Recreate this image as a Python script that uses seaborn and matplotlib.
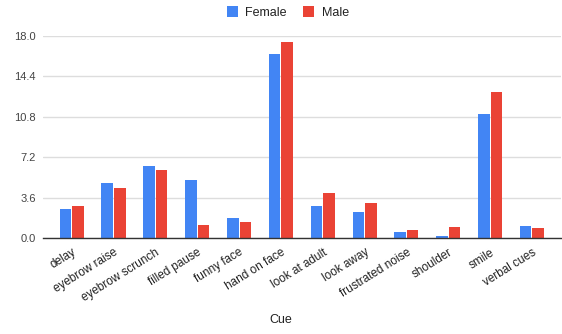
import pandas as pd
import matplotlib
matplotlib.use('Agg')
import matplotlib.pyplot as plt
import seaborn as sns

cues = ['delay', 'eyebrow raise', 'eyebrow scrunch', 'filled pause', 'funny face',
        'hand on face', 'look at adult', 'look away', 'frustrated noise',
        'shoulder', 'smile', 'verbal cues']
female = [2.6, 4.9, 6.45, 5.15, 1.8, 16.4, 2.9, 2.3, 0.55, 0.2, 11.1, 1.05]
male = [2.9, 4.45, 6.1, 1.2, 1.4, 17.5, 4.0, 3.15, 0.75, 0.95, 13.0, 0.9]
yticks = [0.0, 3.6, 7.2, 10.8, 14.4, 18.0]

df = pd.DataFrame({'Cue': cues * 2,
                   'value': female + male,
                   'gender': ['Female'] * len(cues) + ['Male'] * len(cues)})

sns.set_style('white')
plt.rcParams['font.family'] = ['Liberation Sans', 'DejaVu Sans']

fig, ax = plt.subplots(figsize=(5.62, 3.34), dpi=100)
fig.subplots_adjust(left=0.076, right=0.998, top=0.892, bottom=0.287)

sns.barplot(data=df, x='Cue', y='value', hue='gender',
            palette={'Female': '#4285F4', 'Male': '#EA4335'},
            saturation=1, linewidth=0,
            width=0.6, gap=0.08, ax=ax, legend=True)

ax.set_ylim(0, 18)
ax.set_yticks(yticks)
ax.set_yticklabels([f'{t:.1f}' for t in yticks], fontsize=8, color='#444444')
ax.set_xlim(-0.69, len(cues) - 0.31)
ax.set_xticks(range(len(cues)))
ax.set_xticklabels(cues, rotation=32, ha='right', rotation_mode='anchor',
                   fontsize=8.5, color='#222222')
ax.tick_params(axis='y', length=0, pad=5)
ax.tick_params(axis='x', length=0, pad=6)
ax.yaxis.grid(True, color='#dddddd', linewidth=1)
ax.set_axisbelow(True)
for s in ['top', 'right', 'left']:
    ax.spines[s].set_visible(False)
ax.spines['bottom'].set_color('#333333')
ax.spines['bottom'].set_linewidth(1)
ax.set_ylabel('')
ax.set_xlabel('Cue', fontsize=9, color='#222222')
ax.xaxis.set_label_coords((281 - 42.7) / 518, -0.375)

handles, labels = ax.get_legend_handles_labels()
ax.legend_.remove()
fig.legend(handles, labels, loc='upper center', bbox_to_anchor=(0.512, 1.015),
           ncol=2, frameon=False, fontsize=9, handlelength=0.9, handleheight=0.9,
           columnspacing=1.3, handletextpad=0.6, labelcolor='#222222')

fig.savefig('out.png', dpi=100)
